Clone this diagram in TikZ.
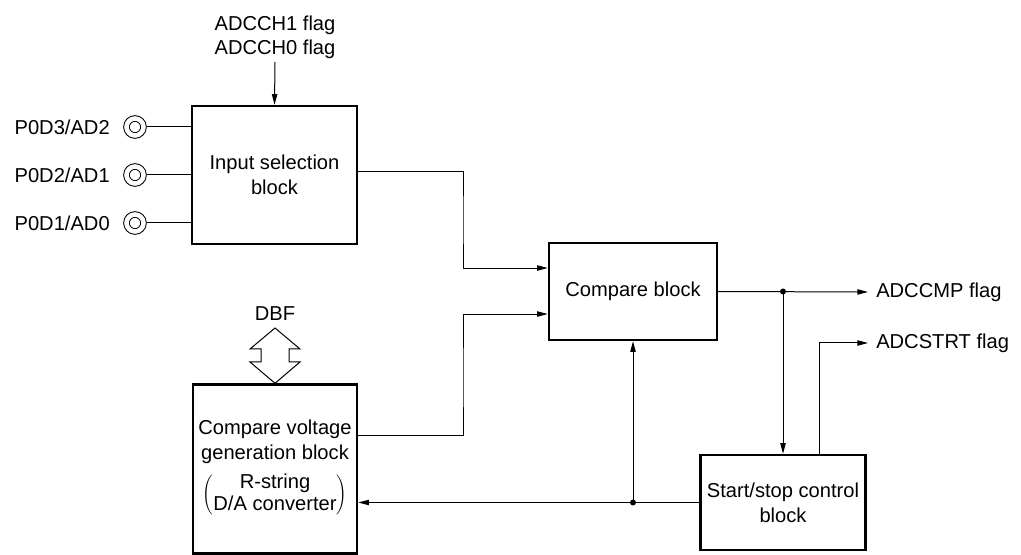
\documentclass[tikz,border=0pt]{standalone}
\usepackage{fontspec}
\setmainfont{Liberation Sans}
\usetikzlibrary{arrows.meta,calc}
\begin{document}
\begin{tikzpicture}[x=0.75pt,y=-0.75pt,
  every node/.style={font=\fontsize{15.1}{18.5}\selectfont},
  blk/.style={draw,line width=1.8pt,align=center,inner sep=0pt},
  conn/.style={line width=0.75pt},
  arr/.style={conn,-{Triangle[length=8pt,width=4pt]}},
  pincirc/.style={circle,draw,line width=0.75pt,double,double distance=3.4pt,minimum size=12.75pt,inner sep=0pt,outer sep=2.6pt},
  flag/.style={anchor=west,inner xsep=6pt,inner ysep=0pt},
  dot/.style={circle,fill,inner sep=0pt,minimum size=4.5pt}]
\useasboundingbox (0,0) rectangle (1021,555);

% blocks
\node[blk,minimum width=123.75pt,minimum height=103.5pt] (in) at (274.5,175) {Input selection\\block};
\node[blk,minimum width=126pt,minimum height=72.75pt] (cmp) at (633,291.5) {Compare block};
\node[blk,minimum width=123pt,minimum height=126.75pt] (cv) at (275,469)
  {Compare voltage\\generation block\\[5pt]{\delimiterfactor=750 \delimitershortfall=16pt
   $\left(\begin{tabular}{@{}c@{}}R-string\\[-2pt]D/A converter\end{tabular}\right)$}};
\node[blk,minimum width=123.75pt,minimum height=71.25pt] (ss) at (783,502.5) {Start/stop control\\block};

% top flags
\node[anchor=south,align=center,inner sep=2pt] (adcch) at (275,62) {ADCCH1 flag\\ADCCH0 flag};
\draw[arr] (adcch.south) -- (in.north);

% pins
\foreach \n/\t/\yy in {p3/P0D3\slash AD2/127, p2/P0D2\slash AD1/175, p1/P0D1\slash AD0/223}{
  \node[pincirc] (\n) at (135,\yy) {};
  \node[anchor=east,inner sep=0pt] (\n l) at (110,\yy) {\t};
  \draw[conn] (\n.east) -- (in.west |- \n.east);
}

% input -> compare
\draw[arr] ([yshift=2.25pt]in.east) -| (463,220) |- ([yshift=17.6pt]cmp.west);
% compare voltage -> compare
\draw[arr] ([yshift=24.8pt]cv.east) -| (463,380) |- ([yshift=-16.9pt]cmp.west);

% compare output
\node[flag] (f1) at (868,292) {ADCCMP flag};
\node[flag] (f2) at (868,343) {ADCSTRT flag};
\coordinate (d1) at (ss.north |- cmp.east);
\draw[arr] (cmp.east) -- (f1.west);
\node[dot] (d1n) at (d1) {};
\draw[arr] (d1) -- (ss.north);
\draw[arr] ([xshift=27pt]ss.north) |- (f2.west);

% start/stop -> compare voltage, and -> compare
\coordinate (d2) at (cmp.south |- ss.west);
\draw[arr] (ss.west) -- (cv.east |- ss.west);
\node[dot] (d2n) at (d2) {};
\draw[arr] (d2) -- (cmp.south);

% DBF
\node (dbf) at (275,314) {DBF};
\draw[line width=0.75pt,line join=miter] (275,328) -- (300,349) -- (289,349) -- (289,362) -- (300,362) -- (cv.north)
  -- (250,362) -- (261,362) -- (261,349) -- (250,349) -- cycle;
\end{tikzpicture}
\end{document}
